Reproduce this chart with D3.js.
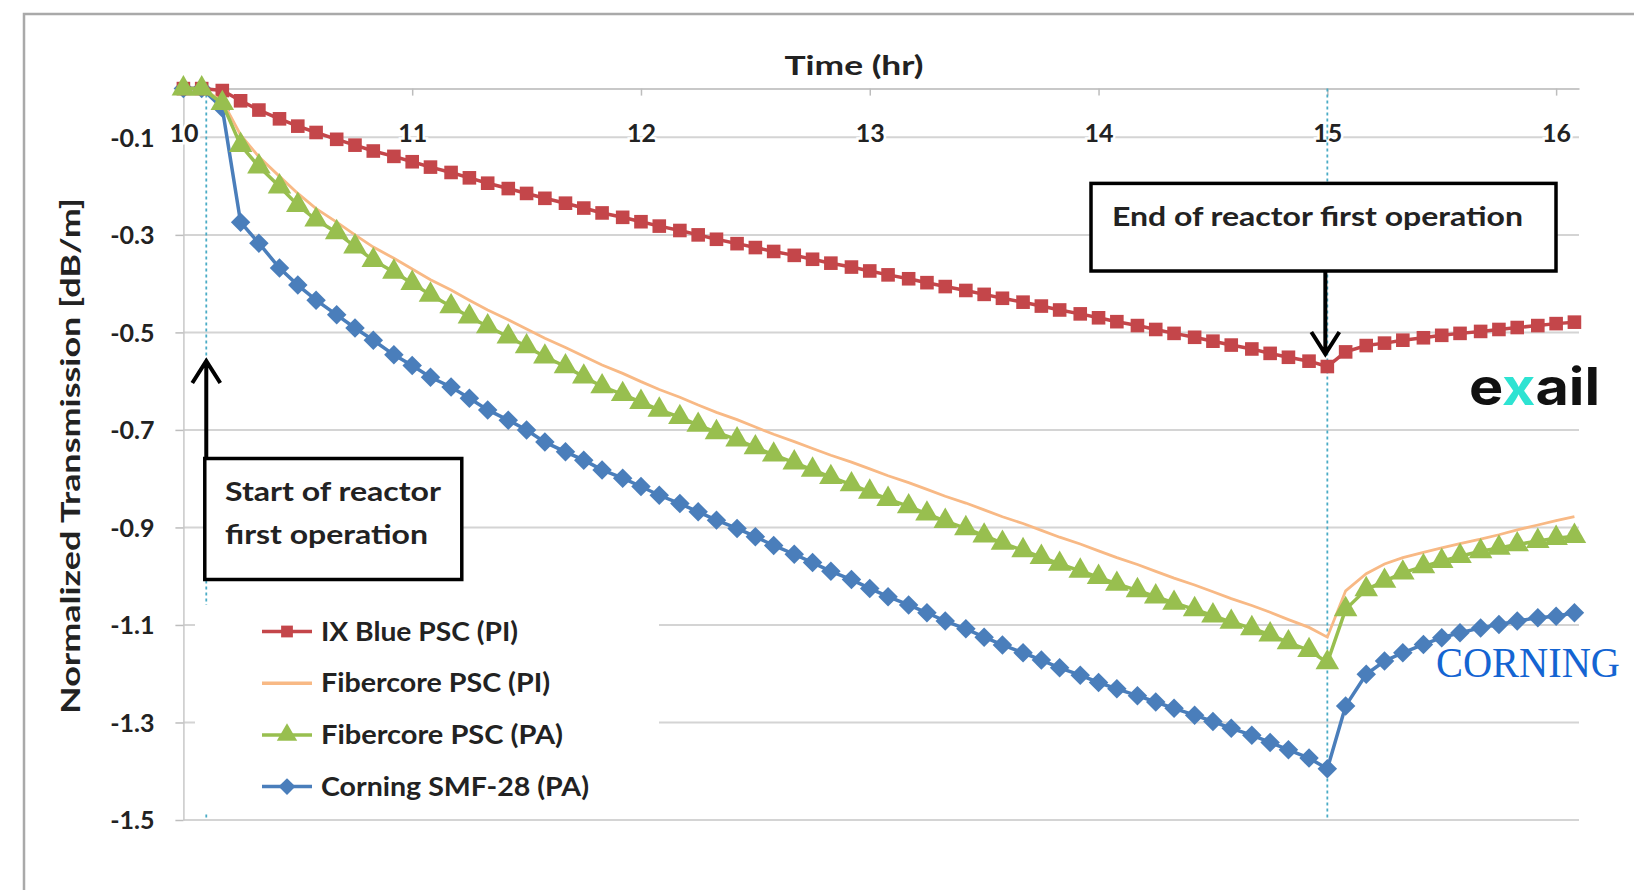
<!DOCTYPE html>
<html>
<head>
<meta charset="utf-8">
<script src="https://cdnjs.cloudflare.com/ajax/libs/d3/7.8.5/d3.min.js"></script>
<style>
    html, body { margin: 0; padding: 0; background: #fff; overflow: hidden; }
    svg text { font-family: Lato, "Open Sans", sans-serif; font-weight: 700; fill: #222; }
</style>
</head>
<body>
<div id="vis"></div>
<script>
// Time of each sample (hr), one every 5 minutes
var times = [
    10.00, 10.08, 10.17, 10.25, 10.33, 10.42, 10.50, 10.58, 10.67, 10.75, 10.83, 10.92,
    11.00, 11.08, 11.17, 11.25, 11.33, 11.42, 11.50, 11.58, 11.67, 11.75, 11.83, 11.92,
    12.00, 12.08, 12.17, 12.25, 12.33, 12.42, 12.50, 12.58, 12.67, 12.75, 12.83, 12.92,
    13.00, 13.08, 13.17, 13.25, 13.33, 13.42, 13.50, 13.58, 13.67, 13.75, 13.83, 13.92,
    14.00, 14.08, 14.17, 14.25, 14.33, 14.42, 14.50, 14.58, 14.67, 14.75, 14.83, 14.92,
    15.00, 15.08, 15.17, 15.25, 15.33, 15.42, 15.50, 15.58, 15.67, 15.75, 15.83, 15.92,
    16.00, 16.08
];

// Normalized transmission (dB/m) per fiber
var ixBluePI = [
    0, 0, -0.004, -0.025, -0.044, -0.062, -0.077, -0.090, -0.104, -0.116, -0.128, -0.139,
    -0.150, -0.161, -0.172, -0.183, -0.194, -0.205, -0.215, -0.225, -0.235, -0.245, -0.255, -0.264,
    -0.273, -0.282, -0.291, -0.300, -0.309, -0.318, -0.326, -0.334, -0.342, -0.350, -0.358, -0.366,
    -0.374, -0.382, -0.390, -0.398, -0.406, -0.414, -0.422, -0.430, -0.438, -0.446, -0.454, -0.462,
    -0.470, -0.478, -0.486, -0.494, -0.502, -0.510, -0.518, -0.526, -0.534, -0.543, -0.551, -0.559,
    -0.570, -0.540, -0.527, -0.522, -0.516, -0.511, -0.506, -0.502, -0.498, -0.494, -0.490, -0.486,
    -0.482, -0.479
];
var fibercorePI = [
    0, 0, -0.025, -0.095, -0.140, -0.180, -0.215, -0.246, -0.274, -0.300, -0.325, -0.348,
    -0.370, -0.392, -0.413, -0.434, -0.454, -0.474, -0.493, -0.512, -0.531, -0.549, -0.567, -0.584,
    -0.601, -0.617, -0.633, -0.649, -0.664, -0.679, -0.694, -0.709, -0.724, -0.738, -0.752, -0.766,
    -0.780, -0.794, -0.808, -0.822, -0.836, -0.850, -0.864, -0.878, -0.892, -0.906, -0.920, -0.934,
    -0.948, -0.962, -0.976, -0.990, -1.004, -1.018, -1.032, -1.046, -1.060, -1.074, -1.089, -1.105,
    -1.125, -1.030, -0.995, -0.975, -0.962, -0.951, -0.942, -0.933, -0.924, -0.915, -0.905, -0.895,
    -0.886, -0.878
];
var fibercorePA = [
    0, 0, -0.030, -0.116, -0.160, -0.201, -0.239, -0.269, -0.295, -0.324, -0.352, -0.376,
    -0.399, -0.423, -0.447, -0.468, -0.488, -0.509, -0.529, -0.550, -0.570, -0.591, -0.611, -0.627,
    -0.643, -0.659, -0.674, -0.690, -0.705, -0.720, -0.736, -0.751, -0.767, -0.782, -0.797, -0.812,
    -0.827, -0.842, -0.857, -0.872, -0.887, -0.902, -0.917, -0.932, -0.947, -0.961, -0.975, -0.989,
    -1.002, -1.016, -1.029, -1.042, -1.055, -1.068, -1.081, -1.094, -1.107, -1.120, -1.136, -1.152,
    -1.177, -1.068, -1.027, -1.010, -0.993, -0.980, -0.969, -0.959, -0.949, -0.942, -0.935, -0.928,
    -0.922, -0.918
];
var corningPA = [
    0, 0, -0.040, -0.274, -0.317, -0.368, -0.403, -0.434, -0.464, -0.491, -0.516, -0.546,
    -0.568, -0.592, -0.612, -0.635, -0.659, -0.680, -0.700, -0.725, -0.745, -0.762, -0.782, -0.799,
    -0.816, -0.834, -0.851, -0.868, -0.885, -0.902, -0.919, -0.937, -0.955, -0.972, -0.990, -1.007,
    -1.025, -1.042, -1.059, -1.075, -1.092, -1.108, -1.125, -1.141, -1.157, -1.172, -1.188, -1.203,
    -1.218, -1.231, -1.245, -1.258, -1.271, -1.285, -1.298, -1.312, -1.326, -1.341, -1.356, -1.373,
    -1.395, -1.266, -1.201, -1.174, -1.157, -1.140, -1.126, -1.116, -1.106, -1.099, -1.092, -1.085,
    -1.082, -1.075
];

var seriesNames = ["IX Blue PSC (PI)", "Fibercore PSC (PI)", "Fibercore PSC (PA)", "Corning SMF-28 (PA)"];
var xTicks = [10, 11, 12, 13, 14, 15, 16];
var yTicks = [-0.1, -0.3, -0.5, -0.7, -0.9, -1.1, -1.3, -1.5];
var reactorStart = 10.1, reactorEnd = 15;

// Set global variables (width, height, etc.)
var width = 1634,
    height = 890,
    margin = { top: 88.6, right: 55, bottom: 70, left: 183.4 };

var svg = d3.select("#vis").append("svg")
    .attr("width", width)
    .attr("height", height);

var x = d3.scaleLinear()
    .domain([10, 16.1])
    .range([margin.left, width - margin.right]);
var y = d3.scaleLinear()
    .domain([-1.5, 0])
    .range([height - margin.bottom, margin.top]);

// series styles (drawing order: Corning first so the others sit on top at t=10)
var series = [
    { name: seriesNames[3], values: corningPA, color: "#4a7ebb", marker: "diamond" },
    { name: seriesNames[0], values: ixBluePI, color: "#c4464a", marker: "square" },
    { name: seriesNames[1], values: fibercorePI, color: "#f8b985", marker: null },
    { name: seriesNames[2], values: fibercorePA, color: "#98bf4f", marker: "triangle" }
];
var legendOrder = [1, 2, 3, 0];

function markerPath(type, k) {
    k = k || 1;
    if (type === "square") return d3.symbol().type(d3.symbolSquare).size(185 * k)();
    if (type === "triangle") return d3.symbol().type(d3.symbolTriangle).size(240 * k)();
    if (type === "diamond") return d3.symbol().type(d3.symbolSquare).size(190 * k)();
    return null;
}
function markerRotate(type) { return type === "diamond" ? " rotate(45)" : ""; }

// outer frame
svg.append("path")
    .attr("d", "M24," + height + "V14H" + width)
    .attr("fill", "none")
    .attr("stroke", "#a9a9a9")
    .attr("stroke-width", 2.5);

// gridlines
svg.append("g").selectAll("line")
    .data(yTicks)
    .enter().append("line")
    .attr("x1", x(10)).attr("x2", x(16.1))
    .attr("y1", function(d) { return y(d); })
    .attr("y2", function(d) { return y(d); })
    .attr("stroke", "#d4d4d4")
    .attr("stroke-width", 2);

// y axis
var yAxis = svg.append("g")
    .attr("transform", "translate(" + x(10) + ",0)")
    .call(d3.axisLeft(y).tickValues(yTicks).tickSizeInner(8).tickSizeOuter(0).tickPadding(21)
        .tickFormat(d3.format(".1f")));
yAxis.select(".domain").attr("stroke", "#c8c8c8").attr("stroke-width", 1.5);
yAxis.selectAll(".tick line").attr("stroke", "#bdbdbd").attr("stroke-width", 1.5);
yAxis.selectAll(".tick text")
    .style("font-size", "25px").style("font-family", null).attr("dy", "0.35em")
    .text(function(d) { return d3.format(".1f")(d).replace("−", "-"); });

// x axis on top (at y = 0)
var xAxis = svg.append("g")
    .attr("transform", "translate(0," + y(0) + ")")
    .call(d3.axisBottom(x).tickValues(xTicks).tickSizeInner(7).tickSizeOuter(0).tickFormat(d3.format("d")));
xAxis.select(".domain").attr("stroke", "#c8c8c8").attr("stroke-width", 2);
xAxis.selectAll(".tick line").attr("stroke", "#bdbdbd").attr("stroke-width", 1.5);
xAxis.selectAll(".tick text")
    .style("font-size", "25px").style("font-family", null)
    .attr("y", 44.5).attr("dy", "0.35em")
    .attr("stroke", "#fff").attr("stroke-width", 5).attr("paint-order", "stroke");

svg.append("text")
    .attr("x", 854).attr("y", 66).attr("dy", "0.35em")
    .attr("text-anchor", "middle")
    .style("font-size", "26px")
    .attr("textLength", 139).attr("lengthAdjust", "spacingAndGlyphs")
    .text("Time (hr)");

svg.append("text")
    .attr("transform", "translate(71,456) rotate(-90)")
    .attr("dy", "0.35em")
    .attr("text-anchor", "middle")
    .style("font-size", "26px")
    .attr("textLength", 516).attr("lengthAdjust", "spacingAndGlyphs")
    .text("Normalized Transmission [dB/m]");

// reactor start / end markers
svg.append("g").selectAll("line")
    .data([reactorStart, reactorEnd])
    .enter().append("line")
    .attr("x1", function(d) { return x(d); })
    .attr("x2", function(d) { return x(d); })
    .attr("y1", y(0)).attr("y2", y(-1.5))
    .attr("stroke", "#4bacc6")
    .attr("stroke-width", 1.8)
    .attr("stroke-dasharray", "3,3");

// series lines + markers
var line = d3.line()
    .x(function(d, i) { return x(times[i]); })
    .y(function(d) { return y(d); });

series.forEach(function(s) {
    svg.append("path")
        .datum(s.values)
        .attr("fill", "none")
        .attr("stroke", s.color)
        .attr("stroke-width", s.marker ? 3.5 : 2.8)
        .attr("d", line);
    if (s.marker) {
        svg.append("g").selectAll("path")
            .data(s.values)
            .enter().append("path")
            .attr("d", markerPath(s.marker))
            .attr("transform", function(d, i) {
                return "translate(" + x(times[i]) + "," + y(d) + ")" + markerRotate(s.marker);
            })
            .attr("fill", s.color);
    }
});

// annotations
function arrowUp(px, top, bottom) {
    return "M" + px + "," + bottom + "V" + top + "M" + (px - 14) + "," + (top + 22) + "L" + px + "," + top + "L" + (px + 14) + "," + (top + 22);
}
function arrowDown(px, top, bottom) {
    return "M" + px + "," + top + "V" + bottom + "M" + (px - 14) + "," + (bottom - 22) + "L" + px + "," + bottom + "L" + (px + 14) + "," + (bottom - 22);
}
svg.append("path")
    .attr("d", arrowUp(x(reactorStart), 361, 458))
    .attr("fill", "none").attr("stroke", "#000").attr("stroke-width", 4);
svg.append("rect")
    .attr("x", x(reactorStart) - 1.5).attr("y", 458.5).attr("width", 257).attr("height", 121)
    .attr("fill", "#fff").attr("stroke", "#000").attr("stroke-width", 3.5);
svg.append("text").attr("x", 225).attr("y", 492).attr("dy", "0.35em")
    .style("font-size", "27px").attr("textLength", 216).attr("lengthAdjust", "spacingAndGlyphs")
    .text("Start of reactor");
svg.append("text").attr("x", 225).attr("y", 534.6).attr("dy", "0.35em")
    .style("font-size", "27px").attr("textLength", 203).attr("lengthAdjust", "spacingAndGlyphs")
    .text("first operation");

svg.append("path")
    .attr("d", arrowDown(x(reactorEnd) - 2, 271, 354))
    .attr("fill", "none").attr("stroke", "#000").attr("stroke-width", 4);
svg.append("rect")
    .attr("x", 1091).attr("y", 183.4).attr("width", 465).attr("height", 87.6)
    .attr("fill", "#fff").attr("stroke", "#000").attr("stroke-width", 3.5);
svg.append("text").attr("x", 1112).attr("y", 216.7).attr("dy", "0.35em")
    .style("font-size", "27px").attr("textLength", 411).attr("lengthAdjust", "spacingAndGlyphs")
    .text("End of reactor first operation");

// legend
var legend = svg.append("g").attr("class", "legend");
legend.append("rect")
    .attr("x", 195).attr("y", 605).attr("width", 464).attr("height", 207)
    .attr("fill", "#fff");
var legendWidths = [197, 229, 242, 268];
legendOrder.forEach(function(si, row) {
    var s = series[si];
    var ly = 631.5 + row * 51.7;
    legend.append("line")
        .attr("x1", 262).attr("x2", 312).attr("y1", ly).attr("y2", ly)
        .attr("stroke", s.color).attr("stroke-width", 3.5);
    if (s.marker) {
        legend.append("path")
            .attr("d", markerPath(s.marker, 0.75))
            .attr("transform", "translate(287," + ly + ")" + markerRotate(s.marker))
            .attr("fill", s.color);
    }
    legend.append("text")
        .attr("x", 321).attr("y", ly).attr("dy", "0.35em")
        .style("font-size", "26px")
        .attr("textLength", legendWidths[row]).attr("lengthAdjust", "spacingAndGlyphs")
        .text(s.name);
});

// logos
var exail = svg.append("text")
    .attr("x", 1469).attr("y", 405)
    .style("font-family", "Inter, Lato, sans-serif")
    .style("font-weight", 700)
    .style("font-size", "52px")
    .attr("textLength", 131).attr("lengthAdjust", "spacingAndGlyphs");
exail.append("tspan").style("fill", "#111").text("e");
exail.append("tspan").style("fill", "#2ee3d2").text("x");
exail.append("tspan").style("fill", "#111").text("ail");

svg.append("text")
    .attr("x", 1436).attr("y", 677)
    .style("font-family", "'Liberation Serif', 'DejaVu Serif', serif")
    .style("font-weight", 400)
    .style("font-size", "42px")
    .style("fill", "#1464d2")
    .attr("textLength", 184).attr("lengthAdjust", "spacingAndGlyphs")
    .text("CORNING");
</script>
</body>
</html>
